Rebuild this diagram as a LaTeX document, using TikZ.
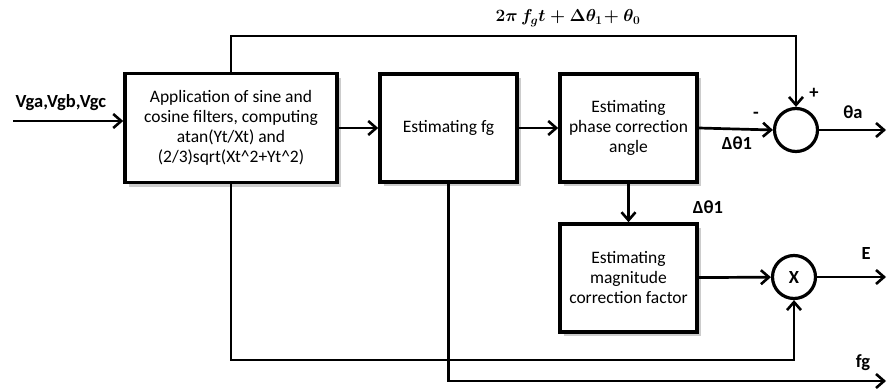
\documentclass[tikz,border=0pt]{standalone}
\usepackage{fontspec}
\setmainfont{Carlito}
\usetikzlibrary{arrows.meta,shadows}
\tikzset{
  block/.style={draw,line width=3.6pt,fill=white,align=center,
    font=\fontsize{17.5}{20}\selectfont,
    drop shadow={shadow xshift=4pt,shadow yshift=-4pt,opacity=0.4,fill=gray}},
  sumnode/.style={draw,circle,line width=3.2pt,minimum size=43pt,inner sep=0pt},
  lbl/.style={font=\fontsize{18.5}{20}\selectfont\bfseries},
  >={Straight Barb[length=8pt,width=14pt,line width=2.6pt]}
}
\begin{document}
\begin{tikzpicture}[x=1pt,y=-1pt,line width=2.7pt]
  \useasboundingbox (0,0) rectangle (888,388);
  \node [block,minimum width=212pt,minimum height=109pt] (app) at (231,128)
    {Application of sine and\\cosine filters, computing\\atan(Yt/Xt) and\\(2/3)sqrt(Xt\^{}2+Yt\^{}2)};
  \node [block,minimum width=137pt,minimum height=108pt] (fg) at (448.5,128) {Estimating fg};
  \node [block,minimum width=137pt,minimum height=108pt] (phase) at (628.5,128)
    {Estimating\\phase correction\\angle};
  \node [block,minimum width=137pt,minimum height=108pt] (mag) at (628.5,278)
    {Estimating\\magnitude\\correction factor};
  \node [sumnode] (sum) at (796,130) {};
  \node [sumnode,font=\fontsize{18.5}{20}\selectfont\bfseries] (mul) at (794,277) {X};

  \coordinate (in) at (13,121);
  \coordinate (top) at (0,36);
  \coordinate (bot) at (0,360);
  \coordinate (thout) at (886,130);
  \coordinate (eout) at (886,277);
  \coordinate (fgout) at (886,381);

  \draw[->] (in) -- (in -| app.west);
  \node[lbl,anchor=south west] at (11,115) {Vga,Vgb,Vgc};
  \draw[->] (app.east |- fg) -- (fg);
  \draw[->] (fg) -- (phase);
  \draw[->] (phase.east) -- (sum.west);
  \node[lbl] at (737,143) {Δθ1};
  \node[lbl] at (756,115) {-};
  \draw[->] (app.north) -- (app.north |- top) -| (sum.north);
  \node[lbl] at (814,93) {+};
  \node[font=\fontsize{18}{20}\selectfont\boldmath] at (568,18) {$2\pi\, f_g t+\Delta\theta_1\!+\theta_0$};
  \draw[->] (sum.east) -- (thout);
  \node[lbl] at (853,112) {θa};
  \draw[->] (phase) -- (mag);
  \node[lbl] at (708,207) {Δθ1};
  \draw[->] (mag) -- (mul);
  \draw[->] (mul.east) -- (eout);
  \node[lbl] at (866,253) {E};
  \draw[->] (app.south) |- (mul.south |- bot) -- (mul.south);
  \draw[->] (fg.south) |- (fgout);
  \node[lbl] at (863,363) {fg};
\end{tikzpicture}
\end{document}
